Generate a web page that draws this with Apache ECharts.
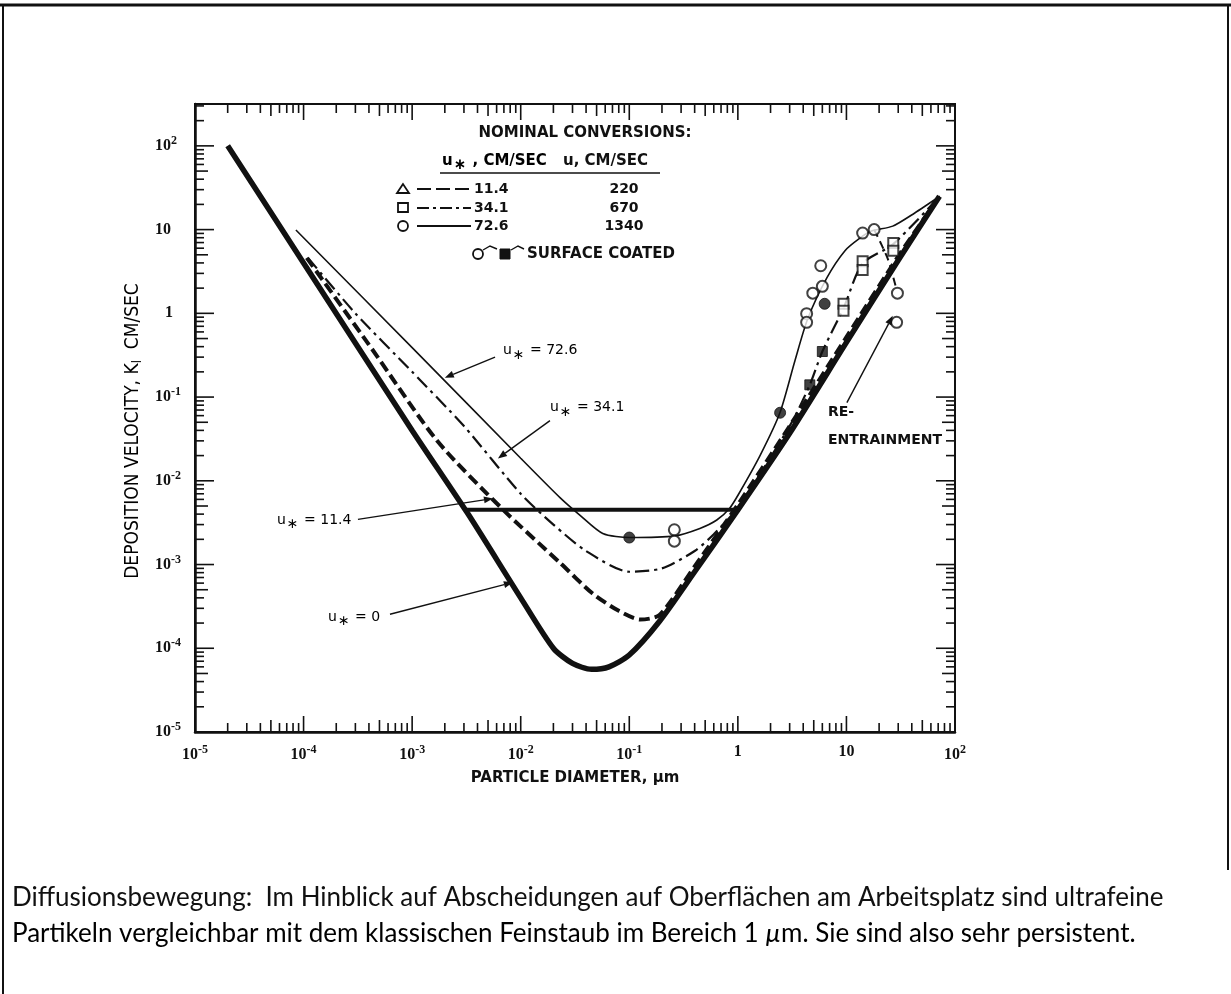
<!DOCTYPE html>
<html><head><meta charset="utf-8">
<script src="https://cdn.jsdelivr.net/npm/echarts@6/dist/echarts.min.js"></script>
<style>html,body{margin:0;padding:0;background:#fff;}#c{width:1231px;height:994px;}</style>
</head><body><div id="c"></div>
<script>
// ---------------- data ----------------
// deposition velocity K (cm/s) vs particle diameter (µm)
const curveU0 = [[2e-5,100],[1e-4,4.0],[1e-3,0.04],[3.2e-3,4.2e-3],[1e-2,4.0e-4],[0.02,1.0e-4],[0.03,6.6e-5],[0.045,5.6e-5],[0.065,6.0e-5],[0.1,8.3e-5],[0.19,2.1e-4],[0.4,8.2e-4],[1,4.5e-3],[3,0.037],[10,0.45],[30,4.3],[72,25]];
const curveU11 = [[1.07e-4,4.6],[4.3e-4,0.37],[1.7e-3,0.03],[6.9e-3,4.5e-3],[0.023,1.05e-3],[0.046,4.5e-4],[0.08,2.8e-4],[0.126,2.2e-4],[0.19,2.5e-4],[0.4,9.5e-4],[1,5.2e-3],[3,0.045],[10,0.52],[30,4.8],[72,25]];
const curveU34 = [[1.1e-4,4.6],[3e-4,1.0],[1e-3,0.2],[3e-3,0.045],[0.01,7e-3],[0.02,3e-3],[0.04,1.45e-3],[0.1,8.2e-4],[0.2,9e-4],[0.4,1.45e-3],[0.6,2.3e-3],[1,4.8e-3],[3,0.045],[4.6,0.14],[6,0.35],[9.4,1.15],[14,3.9],[27,6.7],[72,25]];
const curveU72 = [[8.5e-5,9.9],[1e-3,0.39],[1e-2,0.0186],[0.023,6.3e-3],[0.035,3.9e-3],[0.057,2.35e-3],[0.101,2.1e-3],[0.263,2.2e-3],[0.447,2.7e-3],[0.64,3.4e-3],[0.84,4.7e-3],[1.04,7.3e-3],[1.6,0.02],[2.44,0.065],[3.35,0.27],[4.4,0.86],[6.6,2.65],[9.7,5.6],[13.3,7.9],[17,9.6],[26.7,11],[42.6,15.8],[72.4,25]];
const plateauLine = [[3.1e-3,4.5e-3],[1.0,4.5e-3]];
const reEntrainLine = [[18,10],[24,4.5],[29,1.9]];
const openCircles = [[4.3,0.99],[4.3,0.78],[4.9,1.74],[6.0,2.1],[5.8,3.7],[14.1,9.1],[18,10],[29.5,1.74],[29,0.78],[0.26,2.6e-3],[0.26,1.9e-3]];
const filledCircles = [[0.1,2.1e-3],[2.45,0.065],[6.3,1.3]];
const openSquares = [[9.4,1.3],[9.4,1.07],[14.1,4.2],[14.1,3.3],[27,6.9],[27,5.6]];
const filledSquares = [[6,0.35],[4.6,0.14]];
const legendRows = [['11.4','220'],['34.1','670'],['72.6','1340']];
const xTickValues = [];
for (let d=-5; d<=1; d++) for (let k=1; k<=9; k++) xTickValues.push(k*Math.pow(10,d));
xTickValues.push(100);
const yTickValues = [];
for (let d=-5; d<=1; d++) for (let k=1; k<=9; k++) yTickValues.push(k*Math.pow(10,d));
yTickValues.push(100,200,300);
const X_MIN=1e-5, X_MAX=100, Y_MIN=1e-5, Y_MAX=Math.pow(10,2.5);

const INK = '#111';
const chart = echarts.init(document.getElementById('c'), null, {renderer:'canvas'});

function isPow10(v){const l=Math.log10(v);return Math.abs(l-Math.round(l))<1e-6;}
function isFive(v){return Math.abs(v/Math.pow(10,Math.floor(Math.log10(v)+1e-9))-5)<1e-6;}
function expLabel(v){
  const l=Math.log10(v), e=Math.round(l);
  if (Math.abs(l-e)>1e-6) return '';
  if (e===0) return '{one|1}';
  if (e===1) return '{b|10}';
  return '{b|10}{s|'+(e<0?'-':'')+Math.abs(e)+'}';
}
const labelFont = 'Liberation Serif';
const richBase = {
  b:{fontFamily:labelFont,fontWeight:'bold',fontSize:16,color:INK},
  s:{fontFamily:labelFont,fontWeight:'bold',fontSize:12,color:INK,padding:[0,0,10,0]}
};

function tickX(params, api){
  const v = api.value(0);
  const len = isPow10(v) ? 16 : (isFive(v) ? 12 : 9);
  const b = api.coord([v, Y_MIN]), t = api.coord([v, Y_MAX]);
  const st = {stroke:INK, lineWidth:1.6};
  return {type:'group', children:[
    {type:'line', shape:{x1:b[0],y1:b[1],x2:b[0],y2:b[1]-len}, style:st},
    {type:'line', shape:{x1:t[0],y1:t[1],x2:t[0],y2:t[1]+len}, style:st}]};
}
function tickY(params, api){
  const v = api.value(1);
  const len = isPow10(v) ? 19 : (isFive(v) ? 13 : 9);
  const l = api.coord([X_MIN, v]), r = api.coord([X_MAX, v]);
  const st = {stroke:INK, lineWidth:1.6};
  return {type:'group', children:[
    {type:'line', shape:{x1:l[0],y1:l[1],x2:l[0]+len,y2:l[1]}, style:st},
    {type:'line', shape:{x1:r[0],y1:r[1],x2:r[0]-len,y2:r[1]}, style:st}]};
}

const lineBase = {type:'line', showSymbol:false, symbol:'none', silent:true, smooth:0.25};

chart.setOption({
  animation:false,
  backgroundColor:'#fff',
  grid:{left:195, right:276, top:104, bottom:262, show:true, borderColor:INK, borderWidth:2, containLabel:false},
  xAxis:{type:'log', logBase:10, min:X_MIN, max:X_MAX,
    axisLine:{show:true,lineStyle:{color:INK,width:2.5}}, axisTick:{show:false}, splitLine:{show:false},
    axisLabel:{margin:12, formatter:expLabel, rich:Object.assign({one:{fontFamily:labelFont,fontWeight:'bold',fontSize:16,color:INK}},richBase)},
    name:'PARTICLE DIAMETER, \u00b5m', nameLocation:'middle', nameGap:39,
    nameTextStyle:{fontFamily:'DejaVu Sans', fontWeight:'bold', fontSize:15, color:INK}},
  yAxis:{type:'log', logBase:10, min:Y_MIN, max:Y_MAX,
    axisLine:{show:true,lineStyle:{color:INK,width:2.5}}, axisTick:{show:false}, splitLine:{show:false},
    axisLabel:{margin:40, align:'left', formatter:expLabel, showMaxLabel:false,
      rich:Object.assign({one:{fontFamily:labelFont,fontWeight:'bold',fontSize:16,color:INK,padding:[0,0,0,10]}},richBase)}},
  series:[
    {type:'custom', renderItem:tickX, data:xTickValues.map(v=>[v,Y_MIN]), silent:true, clip:false, z:5},
    {type:'custom', renderItem:tickY, data:yTickValues.map(v=>[X_MIN,v]), silent:true, clip:false, z:5},
    Object.assign({name:'u*=72.6', data:curveU72, lineStyle:{color:INK,width:1.6}}, lineBase),
    Object.assign({name:'u*=34.1', data:curveU34, lineStyle:{color:INK,width:2.2,type:[14,5,3,5]}}, lineBase),
    Object.assign({name:'u*=11.4', data:curveU11, lineStyle:{color:INK,width:4,type:[11,5]}}, lineBase),
    Object.assign({name:'u*=0', data:curveU0, lineStyle:{color:INK,width:5.5}}, lineBase),
    {type:'line', name:'plateau', data:plateauLine, showSymbol:false, symbol:'none', silent:true, lineStyle:{color:INK,width:4}},
    Object.assign({name:'re-entrainment', data:reEntrainLine, lineStyle:{color:INK,width:2,type:[8,5]}}, lineBase),
    {type:'scatter', data:openCircles, symbol:'circle', symbolSize:11, itemStyle:{color:'#fff',borderColor:INK,borderWidth:2}, z:10, silent:true},
    {type:'scatter', data:filledCircles, symbol:'circle', symbolSize:11, itemStyle:{color:INK,borderColor:INK,borderWidth:1}, z:10, silent:true},
    {type:'scatter', data:openSquares, symbol:'rect', symbolSize:10, itemStyle:{color:'#fff',borderColor:INK,borderWidth:2}, z:10, silent:true},
    {type:'scatter', data:filledSquares, symbol:'rect', symbolSize:10, itemStyle:{color:INK,borderColor:INK,borderWidth:1}, z:10, silent:true}
  ]
});

// ---------------- annotations / legend / caption ----------------
function P(x,y){return chart.convertToPixel({xAxisIndex:0,yAxisIndex:0},[x,y]);}
function arrow(a,b){
  const ang=Math.atan2(b[1]-a[1],b[0]-a[0]), L=9, W=3.5;
  const bx=b[0]-L*Math.cos(ang), by=b[1]-L*Math.sin(ang);
  return [
    {type:'line', shape:{x1:a[0],y1:a[1],x2:bx,y2:by}, style:{stroke:INK,lineWidth:1.4}, z:20},
    {type:'polygon', shape:{points:[[b[0],b[1]],[bx-W*Math.sin(ang),by+W*Math.cos(ang)],[bx+W*Math.sin(ang),by-W*Math.cos(ang)]]}, style:{fill:INK}, z:20}
  ];
}
const uRich = {n:{fontFamily:'DejaVu Sans',fontSize:14,color:INK}, a:{fontFamily:'DejaVu Sans',fontSize:14,color:INK,padding:[9,1,0,1]}};
function uText(pt,val){
  return {type:'text', x:pt[0], y:pt[1], z:20, style:{text:'{n|u}{a|\u2217}{n| = '+val+'}', rich:uRich, verticalAlign:'middle', align:'left'}};
}
const annotations = [
  {val:'72.6', at:[6.86e-3,0.357], from:[5.8e-3,0.30], to:[2.0e-3,0.17]},
  {val:'34.1', at:[1.86e-2,0.0748], from:[1.86e-2,0.0524], to:[6.17e-3,0.0185]},
  {val:'11.4', at:[5.69e-5,3.37e-3], from:[3.17e-4,3.46e-3], to:[5.55e-3,6.15e-3]},
  {val:'0', at:[1.68e-4,2.35e-4], from:[6.25e-4,2.55e-4], to:[8.47e-3,6.13e-4]}
];
const g = [];
annotations.forEach(a=>{
  g.push(uText(P(a.at[0],a.at[1]),a.val));
  arrow(P(a.from[0],a.from[1]),P(a.to[0],a.to[1])).forEach(e=>g.push(e));
});
const reTop = P(6.75,0.0652), reBot = P(6.75,0.0302);
g.push({type:'text', x:reTop[0], y:reTop[1], z:20, style:{text:'RE-', font:'bold 14px "DejaVu Sans"', fill:INK, verticalAlign:'middle'}});
g.push({type:'text', x:reBot[0], y:reBot[1], z:20, style:{text:'ENTRAINMENT', font:'bold 14px "DejaVu Sans"', fill:INK, verticalAlign:'middle'}});
arrow(P(10.1,0.0857),P(26.7,0.933)).forEach(e=>g.push(e));

// y-axis title
g.push({type:'text', x:133, y:431, rotation:Math.PI/2, style:{text:'{t|DEPOSITION VELOCITY, K}{sub|l}{t|  CM/SEC}',
  rich:{t:{fontFamily:'DejaVu Sans Condensed',fontSize:19,color:INK}, sub:{fontFamily:'DejaVu Sans Condensed',fontSize:13,color:INK,padding:[10,0,0,0]}},
  align:'center', verticalAlign:'middle'}});

// legend block (fixed page position, like the printed inset)
const LF = 'bold 15px "DejaVu Sans"', RF = 'bold 14px "DejaVu Sans"';
g.push({type:'text', x:585, y:133, style:{text:'NOMINAL CONVERSIONS:', font:LF, fill:INK, align:'center', verticalAlign:'middle'}});
g.push({type:'text', x:442, y:161, style:{text:'{n|u}{a|\u2217}{n| , CM/SEC}', rich:{n:{fontFamily:'DejaVu Sans',fontWeight:'bold',fontSize:15,color:INK},a:{fontFamily:'DejaVu Sans',fontWeight:'bold',fontSize:15,color:INK,padding:[9,1,0,1]}}, verticalAlign:'middle'}});
g.push({type:'text', x:563, y:161, style:{text:'u, CM/SEC', font:LF, fill:INK, verticalAlign:'middle'}});
g.push({type:'line', shape:{x1:440,y1:173,x2:660,y2:173}, style:{stroke:INK,lineWidth:1.6}});
const rowY=[189,208,226];
const dashes=[[14,5],[12,4,3,4],null];
legendRows.forEach((r,i)=>{
  const y=rowY[i];
  if(i===0) g.push({type:'polygon', shape:{points:[[403,y-5],[397,y+4],[409,y+4]]}, style:{fill:'#fff',stroke:INK,lineWidth:1.8}});
  if(i===1) g.push({type:'rect', shape:{x:398,y:y-5,width:10,height:9}, style:{fill:'#fff',stroke:INK,lineWidth:1.8}});
  if(i===2) g.push({type:'circle', shape:{cx:403,cy:y,r:5}, style:{fill:'#fff',stroke:INK,lineWidth:1.8}});
  g.push({type:'line', shape:{x1:417,y1:y,x2:471,y2:y}, style:{stroke:INK,lineWidth:2,lineDash:dashes[i]||null}});
  g.push({type:'text', x:474, y:y, style:{text:r[0], font:RF, fill:INK, verticalAlign:'middle'}});
  g.push({type:'text', x:624, y:y, style:{text:r[1], font:RF, fill:INK, align:'center', verticalAlign:'middle'}});
});
g.push({type:'circle', shape:{cx:478,cy:254,r:5}, style:{fill:'#fff',stroke:INK,lineWidth:1.8}});
g.push({type:'polyline', shape:{points:[[483,250],[490,246],[497,249]]}, style:{stroke:INK,lineWidth:1.4,fill:null}});
g.push({type:'rect', shape:{x:500,y:249,width:10,height:10}, style:{fill:INK,stroke:INK,lineWidth:1}});
g.push({type:'polyline', shape:{points:[[511,250],[518,246],[524,249]]}, style:{stroke:INK,lineWidth:1.4,fill:null}});
g.push({type:'text', x:527, y:254, style:{text:'SURFACE COATED', font:LF, fill:INK, verticalAlign:'middle'}});

// page frame
g.push({type:'line', shape:{x1:0,y1:5,x2:1231,y2:5}, style:{stroke:INK,lineWidth:3}});
g.push({type:'line', shape:{x1:3,y1:5,x2:3,y2:994}, style:{stroke:INK,lineWidth:2}});
g.push({type:'line', shape:{x1:1228,y1:5,x2:1228,y2:870}, style:{stroke:INK,lineWidth:2}});

// caption (font size fitted so the first line spans the printed width)
const cap1='Diffusionsbewegung:  Im Hinblick auf Abscheidungen auf Oberfl\u00e4chen am Arbeitsplatz sind ultrafeine';
const cap2a='Partikeln vergleichbar mit dem klassischen Feinstaub im Bereich 1 ';
const cap2b='m. Sie sind also sehr persistent.';
const CF='Lato';
const ctx=document.createElement('canvas').getContext('2d');
ctx.font='20px "'+CF+'"';
let FS=20*1158/ctx.measureText(cap1).width;
FS=Math.max(16,Math.min(26,FS));
g.push({type:'text', x:12, y:898, style:{text:cap1, font:FS.toFixed(2)+'px "'+CF+'"', fill:INK, verticalAlign:'middle'}});
g.push({type:'text', x:12, y:934, style:{text:'{r|'+cap2a+'}{i|\u00b5}{r|'+cap2b+'}',
  rich:{r:{fontFamily:CF,fontSize:FS,color:INK},i:{fontFamily:CF,fontStyle:'italic',fontSize:FS,color:INK}}, verticalAlign:'middle'}});

chart.setOption({graphic:{elements:g}});
</script></body></html>
